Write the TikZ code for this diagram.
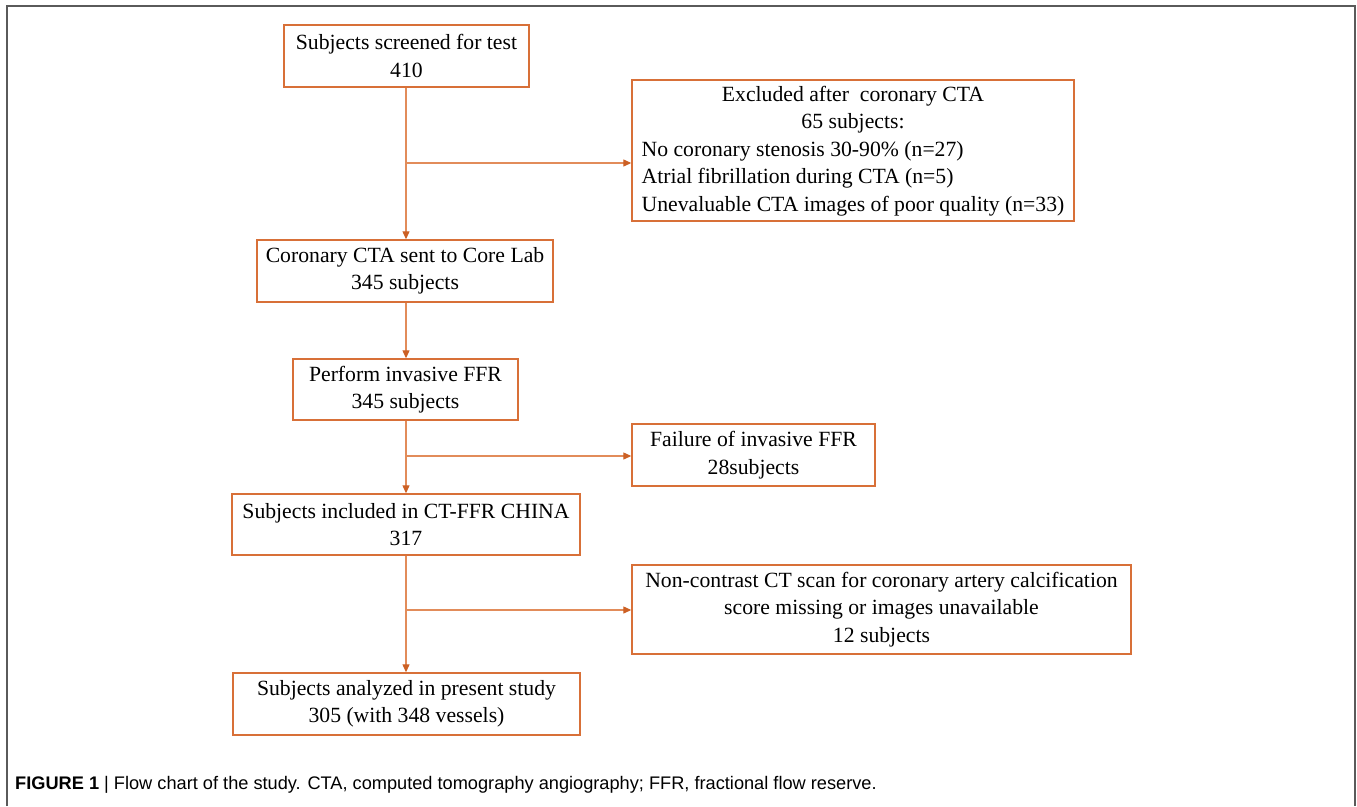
\documentclass[tikz,border=0pt]{standalone}
\usepackage{fontspec}
\setmainfont{Liberation Serif}
\newfontfamily\capfont{Liberation Sans}
\usetikzlibrary{arrows.meta}
\definecolor{boxc}{RGB}{216,112,56}
\definecolor{linec}{RGB}{226,140,90}
\definecolor{tipc}{RGB}{204,96,36}
\definecolor{framec}{RGB}{90,90,90}
\begin{document}
\begin{tikzpicture}[x=1pt,y=-1pt,
  box/.style={draw=boxc, line width=1.4pt, inner sep=0pt, align=center,
    font=\fontsize{21.7}{27.5}\selectfont},
  conn/.style={draw=linec, line width=1.2pt},
  arr/.style={conn, -{Triangle[length=8pt,width=7pt,fill=tipc,color=tipc]}}]
\useasboundingbox (0,0) rectangle (1357,806);
\draw[framec, line width=2pt] (7,806) -- (7,6) -- (1355,6) -- (1355,806);

\node[box, minimum width=245pt, minimum height=62pt] (n1) at (406.5,56) {Subjects screened for test\\410};
\node[box, minimum width=442pt, minimum height=141pt] (excl) at (853,150.5) {%
  \begin{tabular}{@{}l@{}}
  \multicolumn{1}{@{}c@{}}{Excluded after\ \ coronary CTA}\\
  \multicolumn{1}{@{}c@{}}{65 subjects:}\\
  No coronary stenosis 30-90\% (n=27)\\
  Atrial fibrillation during CTA (n=5)\\
  Unevaluable CTA images of poor quality (n=33)
  \end{tabular}};
\node[box, minimum width=296pt, minimum height=62pt] (cta) at (405,271) {Coronary CTA sent to Core Lab\\345 subjects};
\node[box, minimum width=225pt, minimum height=61pt] (ffr) at (405.5,389.5) {Perform invasive FFR\\345 subjects};
\node[box, minimum width=243pt, minimum height=62pt] (fail) at (753.5,455) {Failure of invasive FFR\\28subjects};
\node[box, minimum width=348pt, minimum height=61pt] (incl) at (406,524.5) {Subjects included in CT-FFR CHINA\\317};
\node[box, minimum width=499pt, minimum height=89pt] (nonc) at (881.5,609.5) {Non-contrast CT scan for coronary artery calcification\\score missing or images unavailable\\12 subjects};
\node[box, minimum width=347pt, minimum height=62pt] (anal) at (406.5,704) {Subjects analyzed in present study\\305 (with 348 vessels)};

\coordinate (b1) at (406,163);
\coordinate (b2) at (406,456);
\coordinate (b3) at (406,610);

\draw[arr] (n1.south -| b1) -- (b1 |- cta.north);
\draw[arr] (b1) -- (b1 -| excl.west);
\draw[arr] (cta.south -| b1) -- (b1 |- ffr.north);
\draw[arr] (ffr.south -| b2) -- (b2 |- incl.north);
\draw[arr] (b2) -- (b2 -| fail.west);
\draw[arr] (incl.south -| b3) -- (b3 |- anal.north);
\draw[arr] (b3) -- (b3 -| nonc.west);

\node[anchor=base west, inner sep=0pt, font=\capfont\fontsize{18.2}{21}\selectfont] (cap) at (15,789)
  {\textbf{FIGURE 1} | Flow chart of the study. CTA, computed tomography angiography; FFR, fractional flow reserve.};
\end{tikzpicture}
\end{document}
